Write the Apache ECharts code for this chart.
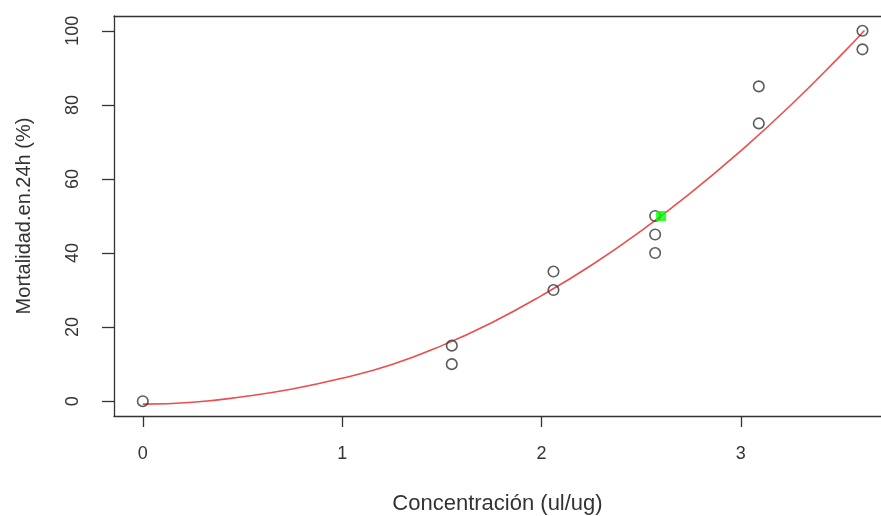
<!DOCTYPE html>
<html>
<head>
<meta charset="utf-8">
<script src="https://cdn.jsdelivr.net/npm/echarts@6/dist/echarts.min.js"></script>
<style>
html,body{margin:0;padding:0;background:#fff;}
#chart{width:881px;height:516px;}
</style>
</head>
<body>
<div id="chart"></div>
<script>
// Observed data points
const concX = [0, 1.55, 1.55, 2.06, 2.06, 2.57, 2.57, 2.57, 3.09, 3.09, 3.61, 3.61];
const mortY = [0, 15, 10, 35, 30, 50, 45, 40, 85, 75, 100, 95];
// Fitted curve
const curveX = [0, 0.25, 0.5, 0.75, 1.0, 1.25, 1.5, 1.75, 2.0, 2.25, 2.5, 2.75, 3.0, 3.25, 3.5, 3.62];
const curveY = [-0.8, -0.3, 1.2, 3.3, 6.2, 9.9, 15.0, 21.2, 28.5, 36.7, 46.0, 56.3, 67.6, 79.9, 93.3, 100.1];
// LD50 marker
const ld50X = [2.60];
const ld50Y = [50];
// Tick labels
const xTicks = [0, 1, 2, 3];
const yTicks = [0, 20, 40, 60, 80, 100];
const xTitle = 'Concentración (ul/ug)';
const yTitle = 'Mortalidad.en.24h (%)';

const pts = concX.map((x, i) => [x, mortY[i]]);
const curve = curveX.map((x, i) => [x, curveY[i]]);
const ld = ld50X.map((x, i) => [x, ld50Y[i]]);

const font = 'Liberation Sans, Arial, Helvetica, sans-serif';
const ink = '#333';
const XMIN = -0.1445, XMAX = 3.703;
const chart = echarts.init(document.getElementById('chart'), null, {renderer: 'canvas'});
chart.setOption({
  animation: false,
  backgroundColor: '#ffffff',
  grid: {left: 114, top: 16, bottom: 100, right: 0, show: false, containLabel: false, outerBoundsMode: 'none'},
  xAxis: [{
    type: 'value', min: XMIN, max: XMAX, position: 'bottom',
    splitLine: {show: false},
    axisLine: {show: true, onZero: false, lineStyle: {color: ink, width: 1.3}},
    axisTick: {show: true, length: 11, lineStyle: {color: ink, width: 1.3}, customValues: xTicks},
    axisLabel: {show: true, customValues: xTicks, margin: 29, color: ink, fontSize: 18, fontFamily: font},
    name: xTitle, nameLocation: 'middle', nameGap: 77,
    nameTextStyle: {color: ink, fontSize: 22, fontFamily: font}
  }, {
    type: 'value', min: XMIN, max: XMAX, position: 'top',
    splitLine: {show: false},
    axisLine: {show: true, onZero: false, lineStyle: {color: ink, width: 1.3}},
    axisTick: {show: false}, axisLabel: {show: false}
  }],
  yAxis: {
    type: 'value', min: -4, max: 104,
    splitLine: {show: false},
    axisLine: {show: true, onZero: false, lineStyle: {color: ink, width: 1.3}},
    axisTick: {show: true, length: 12, lineStyle: {color: ink, width: 1.3}, customValues: yTicks},
    axisLabel: {show: true, customValues: yTicks, rotate: 90, margin: 32, color: ink, fontSize: 18, fontFamily: font},
    name: yTitle, nameLocation: 'middle', nameGap: 80,
    nameTextStyle: {color: ink, fontSize: 20, fontFamily: font}
  },
  series: [
    {
      type: 'line', data: curve, smooth: true, showSymbol: false, symbol: 'none',
      lineStyle: {color: '#ec4d4f', width: 1.6}, z: 2
    },
    {
      type: 'scatter', data: pts, symbol: 'circle', symbolSize: 10.5,
      itemStyle: {color: 'transparent', borderColor: ink, borderWidth: 1.6}, z: 3
    },
    {
      type: 'scatter', data: ld, symbol: 'rect', symbolSize: 10,
      itemStyle: {color: '#00ff00'}, z: 4
    }
  ]
});
</script>
</body>
</html>
